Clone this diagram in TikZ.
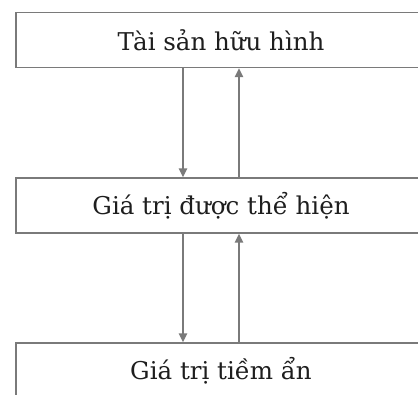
\documentclass[tikz,border=0pt]{standalone}
\usepackage{fontspec}
\setmainfont{DejaVu Serif}
\usetikzlibrary{arrows.meta}
\definecolor{framegray}{HTML}{7A7A7A}
\definecolor{textgray}{HTML}{1E1E1E}
\tikzset{
  levelbox/.style={draw=framegray, line width=1.4pt, rectangle, inner sep=0pt,
    minimum width=410pt, minimum height=55pt, text=textgray,
    font=\fontsize{24.5}{28}\selectfont},
  flow/.style={draw=framegray, line width=1.5pt,
    -{Triangle[length=9pt,width=8.5pt]}}
}
\begin{document}
\begin{tikzpicture}[x=1pt,y=1pt]
  \useasboundingbox (0,0) rectangle (418,-394);
  \clip (0,0) rectangle (418,-394);
  \fill[white] (0,0) rectangle (418,-394);

  \node[levelbox] (tangible) at (221,-40) {Tài sản hữu hình};
  \node[levelbox] (shown)    at (221,-205.5) {Giá trị được thể hiện};
  \node[levelbox] (latent)   at (221,-370.5) {Giá trị tiềm ẩn};

  % columns for the downward and upward links
  \coordinate (down) at (183,0);
  \coordinate (up)   at (239,0);

  \draw[flow] (tangible.south -| down) -- (shown.north -| down);
  \draw[flow] (shown.north -| up) -- (tangible.south -| up);
  \draw[flow] (shown.south -| down) -- (latent.north -| down);
  \draw[flow] (latent.north -| up) -- (shown.south -| up);
\end{tikzpicture}
\end{document}
